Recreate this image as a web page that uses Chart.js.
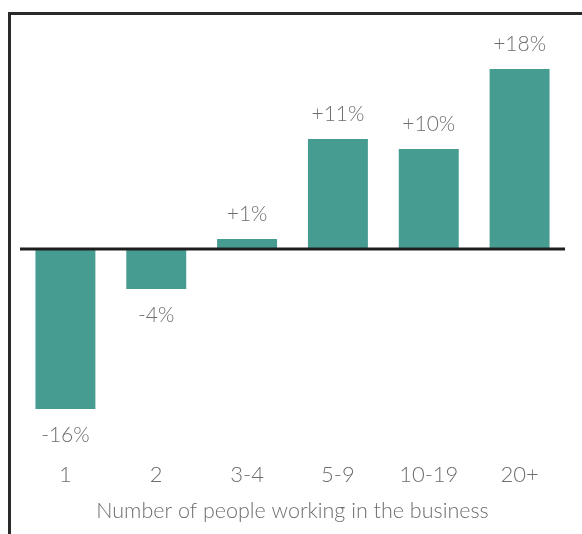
<!DOCTYPE html>
<html>
<head>
<meta charset="utf-8">
<script src="https://cdn.jsdelivr.net/npm/chart.js@4/dist/chart.umd.min.js"></script>
<style>
  html, body { margin: 0; padding: 0; background: #fff; }
  #wrap { width: 582px; height: 534px; }
</style>
</head>
<body>
<div id="wrap"><canvas id="sizeChart" width="582" height="534"></canvas></div>
<script>
// Change by business size (number of people working in the business)
const categories = ['1', '2', '3-4', '5-9', '10-19', '20+'];
const changes = [-16, -4, 1, 11, 10, 18];
const valueLabels = ['-16%', '-4%', '+1%', '+11%', '+10%', '+18%'];

const teal = '#479c92';
const grey = '#6e6e6e';
const fontFamily = 'Lato, "Open Sans", sans-serif';

// frame on the left and top edges
const framePlugin = {
  id: 'frame',
  beforeDraw(chart) {
    const c = chart.ctx;
    c.save();
    c.strokeStyle = '#2a2a2a';
    c.lineWidth = 3;
    c.beginPath();
    c.moveTo(9.5, chart.height);
    c.lineTo(9.5, 13.5);
    c.lineTo(chart.width, 13.5);
    c.stroke();
    c.restore();
  }
};

// zero line and value labels above/below each bar
const barTextPlugin = {
  id: 'barText',
  afterDatasetsDraw(chart) {
    const c = chart.ctx;
    const y = chart.scales.y;
    const area = chart.chartArea;
    const y0 = y.getPixelForValue(0);
    c.save();
    c.strokeStyle = '#1e1e1e';
    c.lineWidth = 3;
    c.beginPath();
    c.moveTo(area.left, y0);
    c.lineTo(area.right, y0);
    c.stroke();

    c.fillStyle = grey;
    c.font = '300 21px ' + fontFamily;
    c.textAlign = 'center';
    c.textBaseline = 'middle';
    chart.getDatasetMeta(0).data.forEach((bar, i) => {
      const v = changes[i];
      const ty = v >= 0 ? bar.y - 25 : bar.y + 26;
      c.fillText(valueLabels[i], bar.x, ty);
    });
    c.restore();
  }
};

new Chart(document.getElementById('sizeChart'), {
  type: 'bar',
  data: {
    labels: categories,
    datasets: [{
      data: changes,
      backgroundColor: teal,
      borderWidth: 0,
      categoryPercentage: 0.66,
      barPercentage: 1
    }]
  },
  options: {
    responsive: false,
    animation: false,
    layout: { padding: { top: 29, left: 20, right: 17, bottom: 0 } },
    plugins: {
      legend: { display: false },
      tooltip: { enabled: false }
    },
    scales: {
      x: {
        grid: { display: false },
        border: { display: false },
        ticks: {
          color: grey,
          padding: 5,
          font: { family: fontFamily, size: 22, weight: 300 }
        },
        title: {
          display: true,
          text: 'Number of people working in the business',
          color: grey,
          padding: { top: 0, bottom: 10 },
          font: { family: fontFamily, size: 21.5, weight: 300 }
        },
        afterFit(scale) { scale.height = 85; }
      },
      y: {
        display: false,
        min: -20,
        max: 22
      }
    }
  },
  plugins: [framePlugin, barTextPlugin]
});
</script>
</body>
</html>
